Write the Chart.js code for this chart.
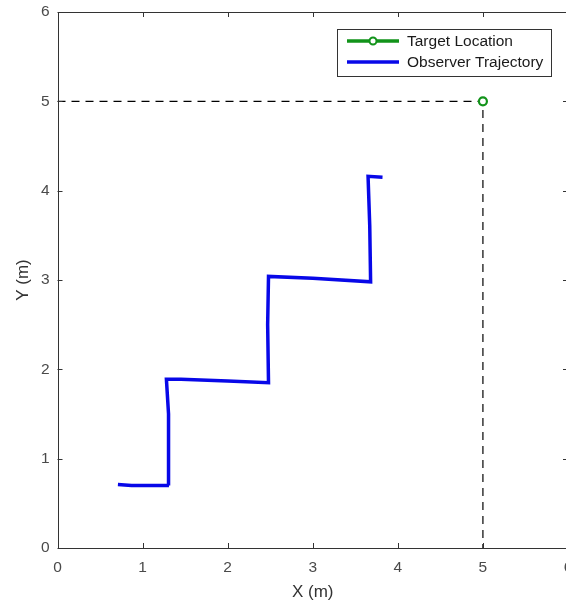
<!DOCTYPE html>
<html>
<head>
<meta charset="utf-8">
<script src="https://cdn.jsdelivr.net/npm/chart.js@4"></script>
<style>
    html, body { margin: 0; padding: 0; background: #fff; overflow: hidden; width: 566px; height: 606px; }
    canvas { display: block; }
</style>
</head>
<body>
<canvas id="traj-chart" width="576" height="606"></canvas>
<script>
"use strict";

// Observer path (metres)
const trajX = [0.71, 0.87, 1.31, 1.31, 1.30, 1.28, 1.45, 2.00, 2.48, 2.47, 2.48, 3.00, 3.68, 3.67, 3.65, 3.82];
const trajY = [0.71, 0.70, 0.70, 1.10, 1.50, 1.89, 1.89, 1.87, 1.85, 2.50, 3.04, 3.02, 2.98, 3.60, 4.16, 4.15];

// Target and the dashed guide lines to it
const targetX = [5];
const targetY = [5];
const guideX = [0, 5, 5];
const guideY = [5, 5, 0];

const tickValues = [0, 1, 2, 3, 4, 5, 6];
const legendLabels = ['Target Location', 'Observer Trajectory'];

const green = '#12931a';
const blue = '#0808e8';

function toPoints(xs, ys) {
    let pts = [];
    for (let i = 0; i < xs.length; i++) {
        pts.push({x: xs[i], y: ys[i]});
    }
    return pts;
}

// box, inward ticks and the legend, matlab style
const matlabFrame = {
    id: 'matlabFrame',
    afterDatasetsDraw(chart) {
        const ctx = chart.ctx;
        const a = chart.chartArea;
        const xs = chart.scales.x;
        const ys = chart.scales.y;
        ctx.save();
        ctx.strokeStyle = '#333333';
        ctx.lineWidth = 1;
        ctx.strokeRect(Math.round(a.left) + 0.5, Math.round(a.top) + 0.5, Math.round(a.right - a.left), Math.round(a.bottom - a.top));
        ctx.beginPath();
        for (let i = 0; i < tickValues.length; i++) {
            let px = Math.round(xs.getPixelForValue(tickValues[i])) + 0.5;
            ctx.moveTo(px, a.bottom); ctx.lineTo(px, a.bottom - 5);
            ctx.moveTo(px, a.top); ctx.lineTo(px, a.top + 5);
            let py = Math.round(ys.getPixelForValue(tickValues[i])) + 0.5;
            ctx.moveTo(a.left, py); ctx.lineTo(a.left + 5, py);
            ctx.moveTo(a.right, py); ctx.lineTo(a.right - 5, py);
        }
        ctx.stroke();

        // legend
        const lx = 337, ly = 29, lw = 214, lh = 47;
        ctx.fillStyle = '#ffffff';
        ctx.fillRect(lx, ly, lw, lh);
        ctx.strokeStyle = '#333333';
        ctx.strokeRect(lx + 0.5, ly + 0.5, lw, lh);
        const rows = [41, 62];
        const colors = [green, blue];
        ctx.font = '15.5px "Liberation Sans", Arial, sans-serif';
        ctx.textBaseline = 'middle';
        ctx.textAlign = 'left';
        for (let i = 0; i < legendLabels.length; i++) {
            ctx.strokeStyle = colors[i];
            ctx.lineWidth = 3.5;
            ctx.beginPath();
            ctx.moveTo(347, rows[i]); ctx.lineTo(399, rows[i]);
            ctx.stroke();
            if (i == 0) {
                ctx.lineWidth = 2;
                ctx.fillStyle = '#ffffff';
                ctx.beginPath();
                ctx.arc(373, rows[i], 3.5, 0, Math.PI * 2);
                ctx.fill();
                ctx.stroke();
            }
            ctx.fillStyle = '#1a1a1a';
            ctx.fillText(legendLabels[i], 407, rows[i] + 1);
        }
        ctx.restore();
    }
};

const tickFont = {family: '"Liberation Sans", Arial, sans-serif', size: 15.5};
const titleFont = {family: '"Liberation Sans", Arial, sans-serif', size: 17};

new Chart(document.getElementById('traj-chart').getContext('2d'), {
    type: 'scatter',
    data: {
        datasets: [
            {
                label: legendLabels[0],
                data: toPoints(targetX, targetY),
                borderColor: green,
                backgroundColor: '#ffffff',
                pointRadius: 4,
                pointBorderWidth: 2.2,
                showLine: false,
                order: 0
            },
            {
                label: 'guide',
                data: toPoints(guideX, guideY),
                borderColor: '#000000',
                borderWidth: 1.2,
                borderDash: [8, 6],
                pointRadius: 0,
                showLine: true,
                order: 1
            },
            {
                label: legendLabels[1],
                data: toPoints(trajX, trajY),
                borderColor: blue,
                borderWidth: 3.5,
                pointRadius: 0,
                showLine: true,
                tension: 0,
                order: 2
            }
        ]
    },
    options: {
        responsive: false,
        devicePixelRatio: 1,
        animation: false,
        layout: { padding: {top: 12, right: 8, left: 0, bottom: 0} },
        plugins: {
            legend: { display: false },
            tooltip: { enabled: false }
        },
        scales: {
            x: {
                type: 'linear',
                min: 0,
                max: 6,
                afterFit: function(scale) {
                    scale.height = 58;
                    scale.paddingLeft = 0;
                    scale.paddingRight = 0;
                },
                afterBuildTicks: function(scale) { scale.ticks = tickValues.map(v => ({value: v})); },
                grid: { display: false, drawTicks: false },
                border: { display: false },
                ticks: { font: tickFont, color: '#4a4a4a', padding: 10, maxRotation: 0 },
                title: { display: true, text: 'X (m)', font: titleFont, color: '#333333', padding: {top: 2, bottom: 3} }
            },
            y: {
                type: 'linear',
                min: 0,
                max: 6,
                afterFit: function(scale) {
                    scale.width = 57.5;
                    scale.paddingTop = 0;
                    scale.paddingBottom = 0;
                },
                afterBuildTicks: function(scale) { scale.ticks = tickValues.map(v => ({value: v})); },
                grid: { display: false, drawTicks: false },
                border: { display: false },
                ticks: { font: tickFont, color: '#4a4a4a', padding: 8 },
                title: { display: true, text: 'Y (m)', font: titleFont, color: '#333333', padding: {top: 13, bottom: 4} }
            }
        }
    },
    plugins: [matlabFrame]
});
</script>
</body>
</html>
